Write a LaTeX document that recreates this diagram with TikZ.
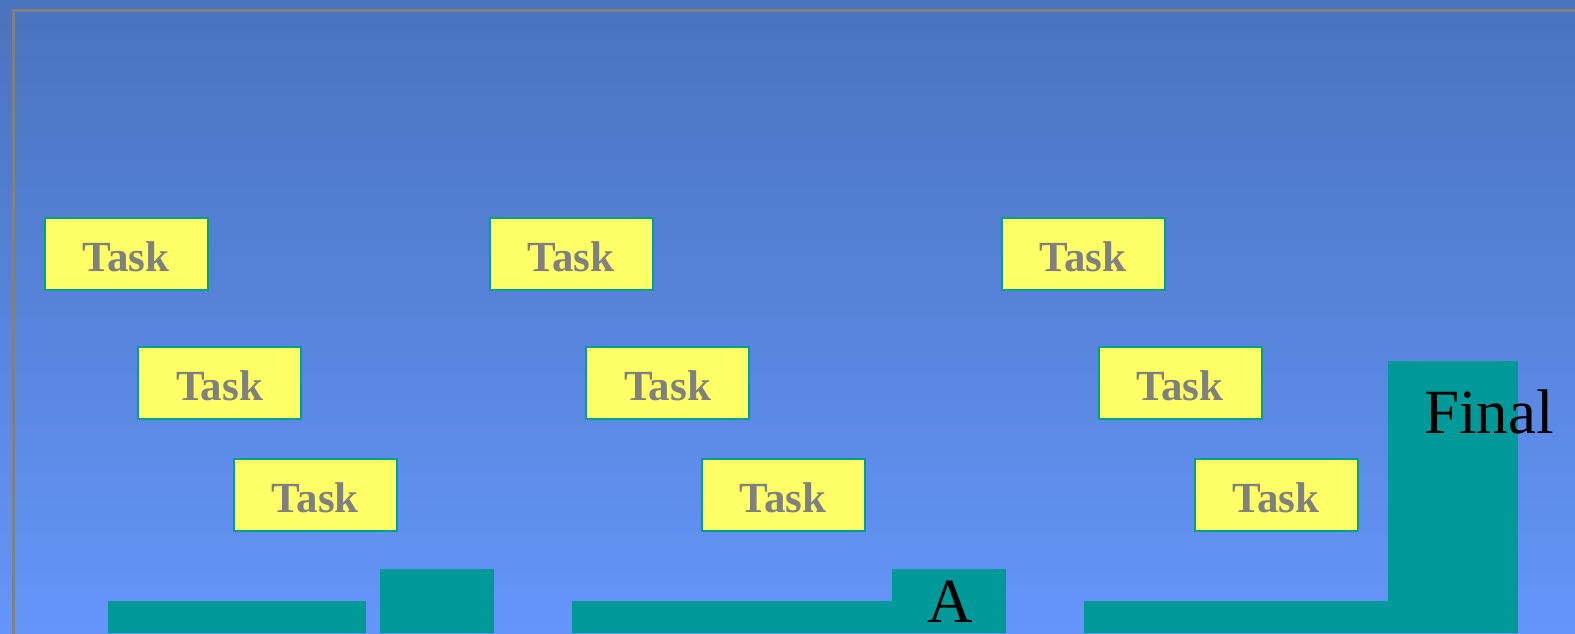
\documentclass[tikz,border=0pt]{standalone}
\usepackage{fontspec}
\setmainfont{Liberation Serif}
\definecolor{bgtop}{RGB}{74,115,190}
\definecolor{bgbot}{RGB}{100,149,249}
\definecolor{teal1}{RGB}{0,153,153}
\definecolor{taskfill}{RGB}{255,255,102}
\definecolor{taskedge}{RGB}{0,160,140}
\definecolor{tasktext}{RGB}{128,128,128}
\definecolor{frame}{RGB}{128,128,128}
\tikzset{
  taskbox/.style={draw=taskedge, line width=2pt, fill=taskfill, minimum width=163pt, minimum height=72pt, inner sep=0pt,
    font=\fontsize{43}{43}\selectfont\bfseries, text=tasktext},
  bar/.style={fill=teal1, draw=none},
  bigtext/.style={font=\fontsize{63}{63}\selectfont, text=black, inner sep=0pt, anchor=base}
}
\newcommand{\tasklabel}{\raisebox{-3pt}[\height][\depth]{Task}}
\begin{document}
\begin{tikzpicture}[x=1pt,y=-1pt]
\useasboundingbox (0,0) rectangle (1575,633);
\shade[top color=bgtop, bottom color=bgbot] (0,0) rectangle (1575,633);
\draw[frame, line width=3pt] (13,640) -- (13,10) -- (1580,10);
% bars
\fill[bar] (108,601) rectangle (366,633);
\fill[bar] (380,569) rectangle (494,633);
\fill[bar] (572,601) rectangle (892,633);
\fill[bar] (892,569) rectangle (1006,633);
\fill[bar] (1084,601) rectangle (1388,633);
\fill[bar] (1388,361) rectangle (1518,633);
\node[bigtext] (a) at (950,622) {A};
\node[bigtext, anchor=base west] (final) at (1424,433) {Final};
% tasks
\node[taskbox] (t11) at (126,253.5) {\tasklabel};
\node[taskbox] (t12) at (571,253.5) {\tasklabel};
\node[taskbox] (t13) at (1083,253.5) {\tasklabel};
\node[taskbox] (t21) at (219.5,382.8) {\tasklabel};
\node[taskbox] (t22) at (667.5,382.8) {\tasklabel};
\node[taskbox] (t23) at (1180,382.8) {\tasklabel};
\node[taskbox] (t31) at (315.4,494.7) {\tasklabel};
\node[taskbox] (t32) at (783,494.7) {\tasklabel};
\node[taskbox] (t33) at (1276,494.7) {\tasklabel};
\end{tikzpicture}
\end{document}
